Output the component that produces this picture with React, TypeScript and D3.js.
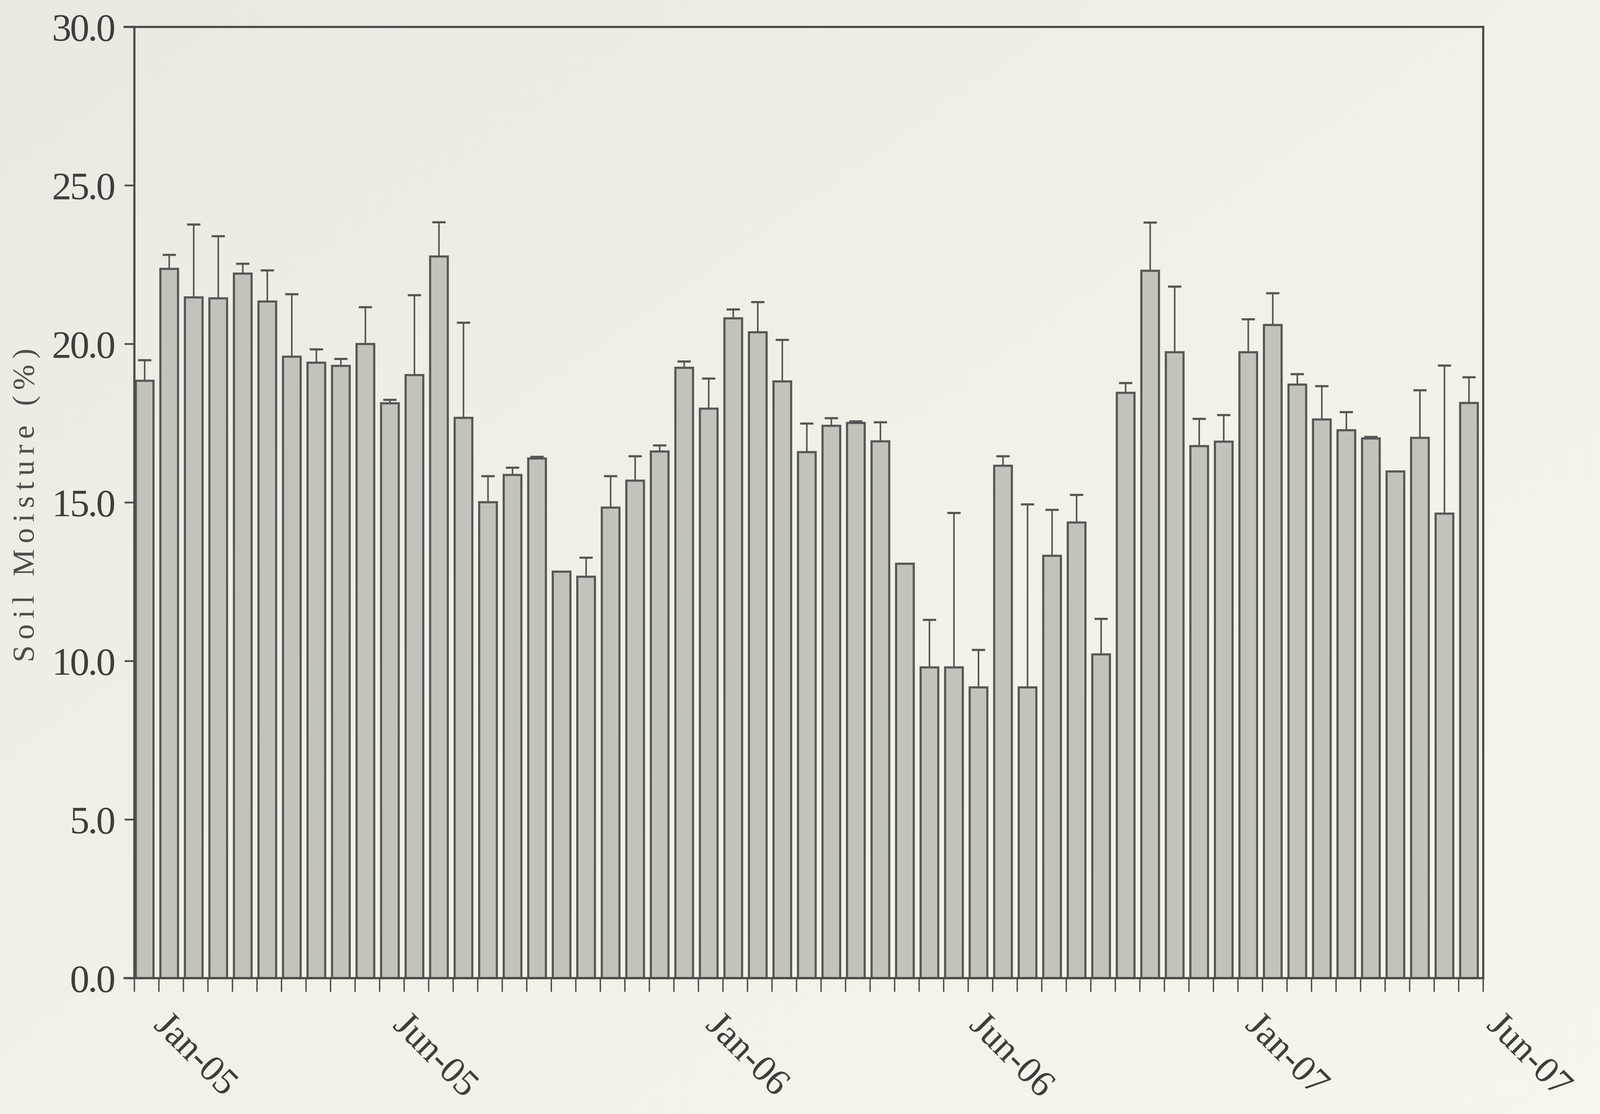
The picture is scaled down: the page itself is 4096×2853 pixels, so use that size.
import React from 'react';
import * as d3 from 'd3';

// Soil moisture (%) per sampling date
const values = [
  18.84, 22.37, 21.47, 21.44, 22.22, 21.34, 19.6, 19.41, 19.31, 20.0,
  18.13, 19.02, 22.76, 17.67, 15.01, 15.87, 16.39, 12.82, 12.66, 14.84,
  15.69, 16.61, 19.25, 17.96, 20.81, 20.37, 18.82, 16.59, 17.42, 17.51,
  16.93, 13.07, 9.8, 9.8, 9.17, 16.16, 9.17, 13.32, 14.37, 10.21,
  18.46, 22.31, 19.74, 16.78, 16.92, 19.74, 20.6, 18.72, 17.62, 17.28,
  17.02, 15.98, 17.04, 14.65, 18.14,
];

// Upper error bar lengths (%)
const upperErrors = [
  0.65, 0.44, 2.3, 1.96, 0.31, 0.98, 1.97, 0.42, 0.22, 1.16,
  0.11, 2.52, 1.08, 3.0, 0.82, 0.23, 0.05, 0, 0.6, 0.99,
  0.77, 0.19, 0.2, 0.95, 0.28, 0.95, 1.31, 0.9, 0.24, 0.05,
  0.6, 0, 1.5, 4.87, 1.18, 0.3, 5.77, 1.45, 0.87, 1.12,
  0.31, 1.52, 2.07, 0.86, 0.84, 1.04, 1.0, 0.33, 1.05, 0.57,
  0.05, 0, 1.5, 4.67, 0.81,
];

const yTickValues = [0, 5, 10, 15, 20, 25, 30];
const xTickLabels = ['Jan-05', 'Jun-05', 'Jan-06', 'Jun-06', 'Jan-07', 'Jun-07'];
// label positions in sample (category) units along the axis
const xTickLabelAt = [0.75, 10.5, 23.25, 34, 45.25, 55.1];
const yTitle = 'Soil Moisture (%)';

const W = 4096;
const H = 2853;
const PLOT = { left: 344, right: 3797, top: 69, bottom: 2505 };

const INK = '#4a4a48';
const FONT = '"Liberation Serif", "DejaVu Serif", serif';

export default function App() {
  const n = values.length;
  const samples = d3.range(n);
  const x = d3.scaleLinear().domain([0, n]).range([PLOT.left, PLOT.right]);
  const y = d3.scaleLinear().domain([0, 30]).range([PLOT.bottom, PLOT.top]);
  const bw = x(1) - x(0);
  const barOffset = 0.06;
  const barFrac = 0.72;
  const capHalf = 17;
  const fmt = d3.format('.1f');

  return (
    <svg
      width={W}
      height={H}
      viewBox={`0 0 ${W} ${H}`}
      style={{ position: 'absolute', left: 0, top: 0, display: 'block' }}
    >
      <defs>
        <linearGradient id="paper" x1="0" y1="0" x2="1" y2="1">
          <stop offset="0" stopColor="#eae8e0" />
          <stop offset="0.5" stopColor="#f2f0e7" />
          <stop offset="1" stopColor="#f6f4eb" />
        </linearGradient>
      </defs>
      <rect x={0} y={0} width={W} height={H} fill="url(#paper)" />

      {/* bars */}
      <g>
        {samples.map((i) => (
          <rect
            key={`b${i}`}
            x={x(i + barOffset)}
            y={y(values[i])}
            width={bw * barFrac}
            height={y(0) - y(values[i])}
            fill="#c4c3bb"
            stroke="#575755"
            strokeWidth={5.5}
          />
        ))}
      </g>

      {/* error bars */}
      <g stroke="#555553" fill="none">
        {samples
          .filter((i) => upperErrors[i] > 0)
          .map((i) => {
            const cx = x(i + barOffset) + (bw * barFrac) / 2;
            const y0 = y(values[i]);
            const y1 = y(values[i] + upperErrors[i]);
            return (
              <g key={`e${i}`}>
                <line x1={cx} x2={cx} y1={y0} y2={y1} strokeWidth={4} />
                <line x1={cx - capHalf} x2={cx + capHalf} y1={y1} y2={y1} strokeWidth={5.5} />
              </g>
            );
          })}
      </g>

      {/* frame and axes */}
      <g stroke={INK} strokeWidth={5.5} fill="none" strokeLinecap="square">
        <line x1={PLOT.left} x2={PLOT.left} y1={y(30)} y2={y(0)} />
        <line x1={PLOT.left - 25} x2={PLOT.right} y1={y(0)} y2={y(0)} />
        <line x1={PLOT.left - 25} x2={PLOT.right} y1={y(30)} y2={y(30)} />
        <line x1={PLOT.right} x2={PLOT.right} y1={y(30)} y2={y(0)} />
      </g>

      {/* y ticks */}
      <g stroke={INK} strokeWidth={4.5}>
        {yTickValues.map((t) => (
          <line key={`yt${t}`} x1={PLOT.left - 25} x2={PLOT.left} y1={y(t)} y2={y(t)} />
        ))}
      </g>
      <g fill="#3e3e3c" fontFamily={FONT} fontSize={100} textAnchor="end">
        {yTickValues.map((t) => (
          <text key={`yl${t}`} x={PLOT.left - 52} y={y(t)} dy="0.35em" letterSpacing={-4}>
            {fmt(t)}
          </text>
        ))}
      </g>

      {/* x ticks */}
      <g stroke={INK} strokeWidth={3.5}>
        {d3.range(n + 1).map((i) => (
          <line key={`xt${i}`} x1={x(i)} x2={x(i)} y1={y(0)} y2={y(0) + 35} />
        ))}
      </g>
      <g fill="#3e3e3c" fontFamily={FONT} fontSize={96}>
        {xTickLabels.map((lab, k) => (
          <text
            key={`xl${k}`}
            transform={`translate(${x(xTickLabelAt[k])},${y(0) + 124}) rotate(45)`}
            textAnchor="start"
          >
            {lab}
          </text>
        ))}
      </g>

      {/* y-axis title */}
      <text
        transform={`translate(86,${(y(0) + y(30)) / 2}) rotate(-90)`}
        textAnchor="middle"
        fontFamily={FONT}
        fontSize={78}
        letterSpacing={15}
        fill="#4e4e4c"
      >
        {yTitle}
      </text>
    </svg>
  );
}
